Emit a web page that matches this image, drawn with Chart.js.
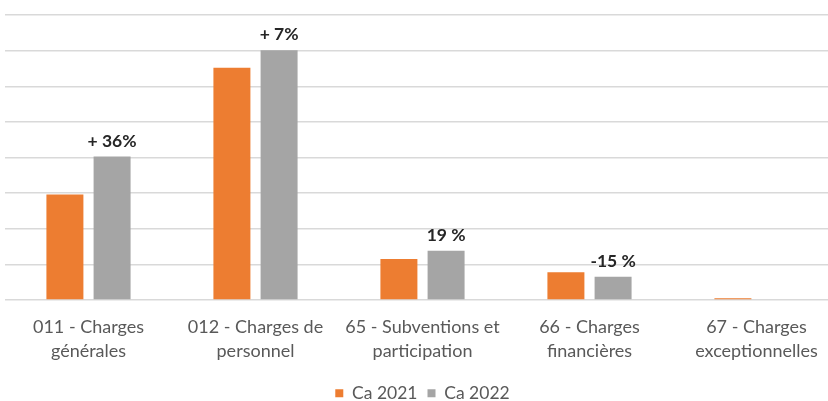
<!DOCTYPE html>
<html>
<head>
<meta charset="utf-8">
<script src="https://cdn.jsdelivr.net/npm/chart.js@4"></script>
<style>
  html, body { margin: 0; padding: 0; background: #ffffff; width: 828px; height: 401px; overflow: hidden; }
  #wrap { width: 840px; height: 401px; position: relative; }
</style>
</head>
<body>
<div id="wrap"><canvas id="c"></canvas></div>
<script>
const categories = [
  ['011 - Charges', 'générales'],
  ['012 - Charges de', 'personnel'],
  ['65 - Subventions et', 'participation'],
  ['66 - Charges', 'financières'],
  ['67 - Charges', 'exceptionnelles']
];
const seriesNames = ['Ca 2021', 'Ca 2022'];
const ca2021 = [2.96, 6.52, 1.15, 0.78, 0.05];
const ca2022 = [4.03, 7.01, 1.38, 0.65, 0];
const changeLabels = ['+ 36%', '+ 7%', '19 %', '-15 %', ''];
const yMax = 8;
const yStep = 1;

const FONT = "Lato, 'Noto Sans', sans-serif";

const changeLabelPlugin = {
  id: 'changeLabels',
  afterDatasetsDraw(chart) {
    const meta = chart.getDatasetMeta(1);
    const ctx = chart.ctx;
    ctx.save();
    ctx.font = "bold 17.5px " + FONT;
    ctx.fillStyle = '#262626';
    ctx.textAlign = 'center';
    ctx.textBaseline = 'middle';
    meta.data.forEach((bar, i) => {
      if (!changeLabels[i]) return;
      ctx.fillText(changeLabels[i], bar.x, bar.y - 15.5);
    });
    ctx.restore();
  }
};

new Chart(document.getElementById('c'), {
  type: 'bar',
  data: {
    labels: categories,
    datasets: [
      { label: seriesNames[0], data: ca2021, backgroundColor: '#ED7D31' },
      { label: seriesNames[1], data: ca2022, backgroundColor: '#A5A5A5' }
    ]
  },
  options: {
    responsive: true,
    maintainAspectRatio: false,
    animation: false,
    devicePixelRatio: 1,
    categoryPercentage: 0.565,
    barPercentage: 0.784,
    layout: { padding: { left: 5, right: 0, top: 15, bottom: -11 } },
    plugins: {
      legend: {
        position: 'bottom',
        labels: {
          boxWidth: 8,
          boxHeight: 8,
          padding: 10,
          color: '#595959',
          font: { family: FONT, size: 17.5 }
        }
      },
      tooltip: { enabled: false }
    },
    scales: {
      x: {
        grid: { display: false, drawTicks: false },
        border: { display: false },
        ticks: {
          color: '#595959',
          font: { family: FONT, size: 18, lineHeight: 1.35 },
          padding: 15,
          maxRotation: 0,
          autoSkip: false
        },
        afterFit(scale) { scale.height = 74.5; }
      },
      y: {
        min: 0,
        max: yMax,
        ticks: { display: false, stepSize: yStep },
        grid: { color: '#D9D9D9', lineWidth: 1.5, drawTicks: false },
        border: { display: false }
      }
    }
  },
  plugins: [changeLabelPlugin]
});
</script>
</body>
</html>
